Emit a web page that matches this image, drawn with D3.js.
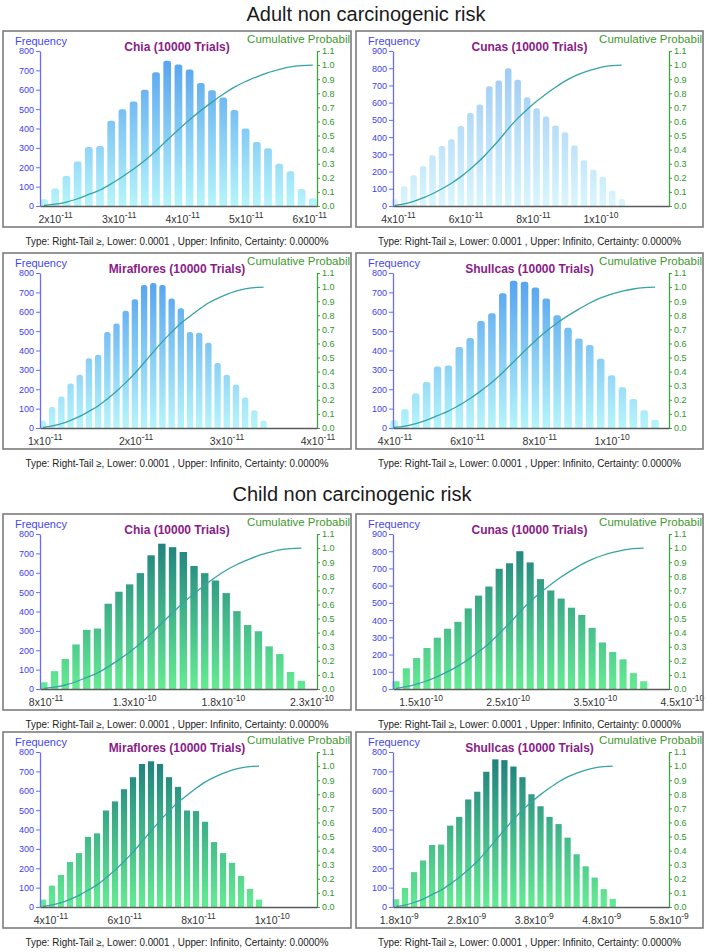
<!DOCTYPE html>
<html>
<head>
<meta charset="utf-8">
<script src="https://cdn.jsdelivr.net/npm/d3@7"></script>
<style>
  body { margin: 0; background: #fff; }
  svg { display: block; font-family: "Liberation Sans", Arial, sans-serif; }
</style>
</head>
<body>
<script>
// ---------------- DATA ----------------
const sectionTitles = ["Adult non carcinogenic risk", "Child non carcinogenic risk"];
const caption = "Type: Right-Tail \u2265, Lower:  0.0001 , Upper: Infinito, Certainty: 0.0000%";
const trialsLabel = "(10000 Trials)";

// frequency counts per bin (25 bins each)
const adultChiaCounts = [35, 90, 155, 230, 305, 310, 440, 500, 540, 600, 690, 750, 730, 705, 635, 598, 560, 495, 400, 330, 298, 218, 180, 88, 40];
const adultCunasCounts = [40, 115, 178, 232, 295, 348, 388, 465, 540, 590, 695, 728, 800, 733, 632, 568, 520, 468, 428, 352, 265, 210, 170, 90, 40];
const adultMirafloresCounts = [38, 108, 162, 230, 275, 360, 378, 495, 540, 605, 665, 738, 748, 738, 668, 618, 495, 492, 440, 335, 275, 225, 158, 92, 38];
const adultShullcasCounts = [40, 97, 178, 238, 318, 322, 418, 465, 552, 592, 695, 760, 755, 725, 668, 582, 518, 462, 428, 358, 272, 210, 150, 92, 42];
const childChiaCounts = [35, 92, 155, 230, 305, 312, 440, 502, 540, 598, 690, 750, 732, 707, 635, 598, 560, 495, 402, 330, 298, 220, 180, 88, 42];
const childCunasCounts = [45, 120, 180, 238, 298, 350, 390, 468, 542, 595, 698, 730, 800, 735, 638, 572, 525, 472, 430, 355, 270, 215, 172, 92, 45];
const childMirafloresCounts = [38, 110, 165, 232, 278, 362, 380, 498, 545, 608, 670, 738, 752, 738, 670, 620, 498, 495, 440, 335, 278, 228, 160, 93, 38];
const childShullcasCounts = [40, 98, 180, 240, 320, 322, 420, 465, 555, 595, 698, 762, 758, 725, 670, 582, 520, 465, 428, 358, 272, 210, 152, 92, 42];

// x-axis value ranges, first bin centre and bin width (data units)
const adultChiaX = { domain: [1.7545e-11, 6.1133e-11], first: 1.8175e-11, width: 0.17624e-11 };
const adultCunasX = { domain: [3.837e-11, 12.015e-11], first: 3.887e-11, width: 0.2803e-11 };
const adultMirafloresX = { domain: [0.943e-11, 3.989e-11], first: 0.976e-11, width: 0.10104e-11 };
const adultShullcasX = { domain: [3.943e-11, 11.571e-11], first: 3.971e-11, width: 0.3006e-11 };
const childChiaX = { domain: [7.657e-11, 23.286e-11], first: 7.873e-11, width: 0.6053e-11 };
const childCunasX = { domain: [11.774e-11, 43.462e-11], first: 12.118e-11, width: 1.1849e-11 };
const childMirafloresX = { domain: [3.704e-11, 11.212e-11], first: 3.785e-11, width: 0.244e-11 };
const childShullcasX = { domain: [1.707e-9, 5.796e-9], first: 1.7515e-9, width: 0.1338e-9 };

// x tick values
const adultChiaTicks = [2e-11, 3e-11, 4e-11, 5e-11, 6e-11];
const adultCunasTicks = [4e-11, 6e-11, 8e-11, 1e-10];
const adultMirafloresTicks = [1e-11, 2e-11, 3e-11, 4e-11];
const adultShullcasTicks = [4e-11, 6e-11, 8e-11, 1e-10];
const childChiaTicks = [8e-11, 1.3e-10, 1.8e-10, 2.3e-10];
const childCunasTicks = [1.5e-10, 2.5e-10, 3.5e-10, 4.5e-10];
const childMirafloresTicks = [4e-11, 6e-11, 8e-11, 1e-10];
const childShullcasTicks = [1.8e-9, 2.8e-9, 3.8e-9, 4.8e-9, 5.8e-9];

const freqMax = [800, 900, 800, 800, 800, 900, 800, 800];
const probTicks = [0, 0.1, 0.2, 0.3, 0.4, 0.5, 0.6, 0.7, 0.8, 0.9, 1.0, 1.1];
const siteNames = ["Chia", "Cunas", "Miraflores", "Shullcas", "Chia", "Cunas", "Miraflores", "Shullcas"];

const panels = [
  { name: siteNames[0], counts: adultChiaCounts, xs: adultChiaX, ticks: adultChiaTicks, ymax: freqMax[0], theme: "adult" },
  { name: siteNames[1], counts: adultCunasCounts, xs: adultCunasX, ticks: adultCunasTicks, ymax: freqMax[1], theme: "adultPale" },
  { name: siteNames[2], counts: adultMirafloresCounts, xs: adultMirafloresX, ticks: adultMirafloresTicks, ymax: freqMax[2], theme: "adult" },
  { name: siteNames[3], counts: adultShullcasCounts, xs: adultShullcasX, ticks: adultShullcasTicks, ymax: freqMax[3], theme: "adult" },
  { name: siteNames[4], counts: childChiaCounts, xs: childChiaX, ticks: childChiaTicks, ymax: freqMax[4], theme: "child" },
  { name: siteNames[5], counts: childCunasCounts, xs: childCunasX, ticks: childCunasTicks, ymax: freqMax[5], theme: "child" },
  { name: siteNames[6], counts: childMirafloresCounts, xs: childMirafloresX, ticks: childMirafloresTicks, ymax: freqMax[6], theme: "child" },
  { name: siteNames[7], counts: childShullcasCounts, xs: childShullcasX, ticks: childShullcasTicks, ymax: freqMax[7], theme: "child" }
];

// ---------------- LAYOUT / STYLE ----------------
const W = 708, H = 952;
const rowTops = [31, 253, 514, 732];
const colX = [3, 356];
const boxW = [348, 347];
const boxH = 196;
const themes = {
  adult: { top: "#529fee", bottom: "#b6f5fb", rx: 2.5 },
  adultPale: { top: "#98c6f3", bottom: "#d9f6fd", rx: 2.5 },
  child: { top: "#1d7b7e", bottom: "#64ec93", rx: 0 }
};

const svg = d3.select("body").append("svg").attr("width", W).attr("height", H);
svg.append("rect").attr("width", W).attr("height", H).attr("fill", "#fff");
const defs = svg.append("defs");

// section titles
svg.append("text").attr("x", 366).attr("y", 21).attr("text-anchor", "middle")
  .attr("font-size", 20).attr("fill", "#1a1a1a").text(sectionTitles[0]);
svg.append("text").attr("x", 352).attr("y", 501).attr("text-anchor", "middle")
  .attr("font-size", 20).attr("fill", "#1a1a1a").text(sectionTitles[1]);

function fmtTick(v) {
  const e = Math.floor(Math.log10(v) + 1e-9);
  const m = +(v / Math.pow(10, e)).toFixed(1);
  return { m: m + "x10", e: String(e) };
}

panels.forEach((p, i) => {
  const row = Math.floor(i / 2), col = i % 2;
  const bx = colX[col], by = rowTops[row], bw = boxW[col];
  const left = bx + 37, right = bx + bw - 34, top = by + 20, bottom = by + 175;
  const th = themes[p.theme];
  const g = svg.append("g");

  const clipId = "clip" + i;
  defs.append("clipPath").attr("id", clipId).append("rect")
    .attr("x", bx + 1).attr("y", by + 1).attr("width", bw - 2).attr("height", boxH - 2);

  const gradId = "grad" + i;
  const grad = defs.append("linearGradient").attr("id", gradId)
    .attr("gradientUnits", "userSpaceOnUse")
    .attr("x1", 0).attr("x2", 0).attr("y1", top).attr("y2", bottom);
  grad.append("stop").attr("offset", "0%").attr("stop-color", th.top);
  grad.append("stop").attr("offset", "100%").attr("stop-color", th.bottom);

  const x = d3.scaleLinear().domain(p.xs.domain).range([left, right]);
  const y = d3.scaleLinear().domain([0, p.ymax]).range([bottom, top]);
  const yR = d3.scaleLinear().domain([0, 1.1]).range([bottom, top]);

  const bins = p.counts.map((c, k) => ({ c, center: p.xs.first + k * p.xs.width }));
  const total = d3.sum(p.counts);
  let run = 0;
  bins.forEach(b => { run += b.c; b.cum = run / total; });

  const inner = g.append("g").attr("clip-path", `url(#${clipId})`);

  const half = p.xs.width * 0.345;
  inner.selectAll("rect.bar").data(bins).enter().append("rect")
    .attr("class", "bar")
    .attr("x", d => x(d.center - half))
    .attr("width", d => x(d.center + half) - x(d.center - half))
    .attr("y", d => y(d.c))
    .attr("height", d => bottom - y(d.c) + (th.rx ? th.rx : 0))
    .attr("rx", th.rx).attr("ry", th.rx)
    .attr("fill", `url(#${gradId})`);
  inner.append("rect").attr("x", left).attr("y", bottom + 0.5).attr("width", right - left).attr("height", 6).attr("fill", "#fff");

  const line = d3.line().x(d => x(d.center)).y(d => yR(d.cum)).curve(d3.curveMonotoneX);
  inner.append("path").datum(bins).attr("d", line)
    .attr("fill", "none").attr("stroke", "#36a3a5").attr("stroke-width", 1.3);

  const la = g.append("g").attr("transform", `translate(${left},0)`)
    .call(d3.axisLeft(y).tickValues(d3.range(0, p.ymax + 1, 100)).tickSize(4).tickSizeOuter(0).tickPadding(2));
  la.select(".domain").attr("stroke", "#6b6bff").attr("stroke-width", 1.3);
  la.selectAll(".tick line").attr("stroke", "#6b6bff");
  la.selectAll(".tick text").attr("fill", "#4040f0").attr("font-size", 9)
    .attr("font-family", "'Liberation Sans', Arial, sans-serif");

  const ra = g.append("g").attr("transform", `translate(${right},0)`)
    .call(d3.axisRight(yR).tickValues(probTicks).tickFormat(d3.format(".1f")).tickSize(3).tickSizeOuter(0).tickPadding(2));
  ra.select(".domain").attr("stroke", "#45a045").attr("stroke-width", 1.3);
  ra.selectAll(".tick line").attr("stroke", "#45a045");
  ra.selectAll(".tick text").attr("fill", "#309530").attr("font-size", 9)
    .attr("font-family", "'Liberation Sans', Arial, sans-serif");

  const ba = g.append("g").attr("transform", `translate(0,${bottom})`)
    .call(d3.axisBottom(x).tickValues([]).tickSizeOuter(0));
  ba.select(".domain").attr("stroke", "#5a5a5a").attr("stroke-width", 1.5);

  p.ticks.forEach(t => {
    const f = fmtTick(t);
    const tx = g.append("text").attr("x", x(t)).attr("y", bottom + 16.5)
      .attr("text-anchor", "middle").attr("fill", "#333").attr("font-size", 10.5);
    tx.append("tspan").text(f.m);
    tx.append("tspan").attr("font-size", 8.5).attr("dy", -5).text(f.e);
  });

  g.append("text").attr("x", bx + 12).attr("y", by + 14).attr("font-size", 11)
    .attr("fill", "#4545ee").text("Frequency");
  g.append("g").attr("clip-path", `url(#${clipId})`).append("text")
    .attr("x", bx + bw - 1).attr("y", by + 12).attr("text-anchor", "end")
    .attr("font-size", 11.5).attr("fill", "#3c9a2c").text("Cumulative Probabil");
  g.append("text").attr("x", bx + bw / 2).attr("y", by + 20).attr("text-anchor", "middle")
    .attr("font-size", 12).attr("font-weight", "bold").attr("fill", "#8a1c88")
    .text(p.name + " " + trialsLabel);

  g.append("rect").attr("x", bx).attr("y", by).attr("width", bw).attr("height", boxH)
    .attr("fill", "none").attr("stroke", "#7c7c7c").attr("stroke-width", 1.6);

  svg.append("text").attr("x", bx + bw / 2).attr("y", by + boxH + 17.5)
    .attr("text-anchor", "middle").attr("font-size", 10).attr("fill", "#222")
    .attr("textLength", 303).attr("lengthAdjust", "spacingAndGlyphs")
    .text(caption);
});
</script>
</body>
</html>
